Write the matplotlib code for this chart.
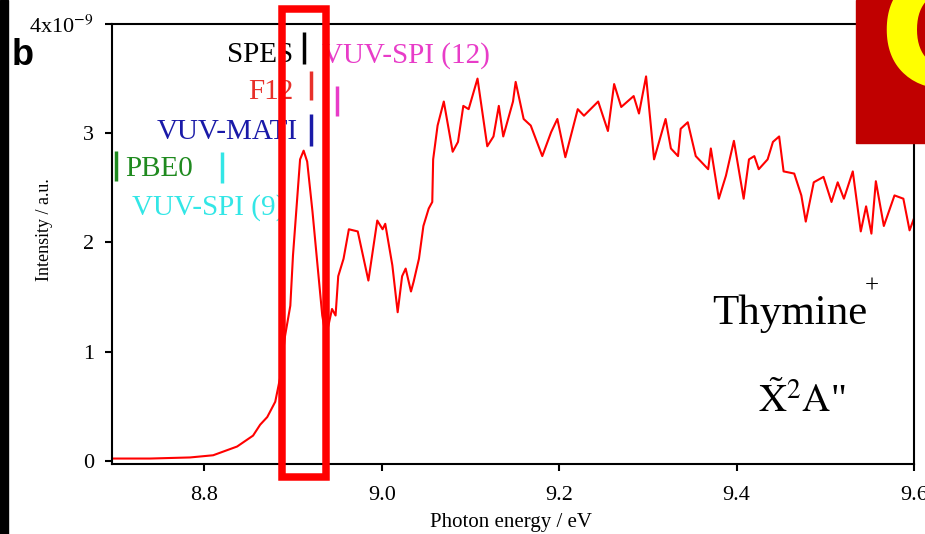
import matplotlib
matplotlib.use("Agg")
import matplotlib.pyplot as plt
from matplotlib.patches import Rectangle

plt.rcParams['font.family'] = ['Liberation Serif', 'DejaVu Serif']
plt.rcParams['mathtext.fontset'] = 'stix'

# spectrum (intensity in units of 1e-9)
energy = [8.696, 8.739, 8.784, 8.810, 8.837, 8.855, 8.863, 8.871, 8.880, 8.886,
          8.891, 8.897, 8.900, 8.905, 8.908, 8.912, 8.916, 8.922, 8.928, 8.933,
          8.937, 8.940, 8.944, 8.948, 8.951, 8.957, 8.963, 8.973, 8.985, 8.995,
          9.001, 9.004, 9.012, 9.018, 9.023, 9.027, 9.033, 9.036, 9.042, 9.047,
          9.053, 9.057, 9.058, 9.063, 9.070, 9.080, 9.086, 9.092, 9.098, 9.108,
          9.119, 9.126, 9.132, 9.137, 9.148, 9.151, 9.160, 9.168, 9.181, 9.191,
          9.198, 9.207, 9.221, 9.228, 9.244, 9.255, 9.262, 9.270, 9.284, 9.290,
          9.298, 9.303, 9.307, 9.320, 9.326, 9.334, 9.337, 9.345, 9.354, 9.368,
          9.371, 9.380, 9.388, 9.397, 9.408, 9.414, 9.420, 9.425, 9.435, 9.441,
          9.448, 9.453, 9.465, 9.473, 9.478, 9.487, 9.498, 9.507, 9.514, 9.521,
          9.531, 9.540, 9.546, 9.552, 9.557, 9.566, 9.578, 9.588, 9.595, 9.600]
intensity = [0.02, 0.02, 0.03, 0.05, 0.13, 0.23, 0.33, 0.40, 0.54, 0.78,
             1.14, 1.42, 1.88, 2.43, 2.76, 2.84, 2.74, 2.28, 1.76, 1.33,
             1.14, 1.24, 1.39, 1.33, 1.69, 1.85, 2.12, 2.10, 1.65, 2.20,
             2.12, 2.17, 1.79, 1.36, 1.69, 1.76, 1.55, 1.64, 1.85, 2.15,
             2.31, 2.37, 2.76, 3.07, 3.29, 2.83, 2.92, 3.25, 3.22, 3.50,
             2.88, 2.97, 3.25, 2.97, 3.29, 3.47, 3.13, 3.07, 2.79, 3.01,
             3.13, 2.78, 3.22, 3.16, 3.29, 3.02, 3.45, 3.24, 3.34, 3.18,
             3.52, 3.10, 2.76, 3.13, 2.86, 2.79, 3.04, 3.10, 2.79, 2.67,
             2.86, 2.40, 2.61, 2.93, 2.40, 2.76, 2.79, 2.67, 2.76, 2.92,
             2.97, 2.65, 2.63, 2.43, 2.19, 2.55, 2.60, 2.37, 2.55, 2.40,
             2.65, 2.10, 2.33, 2.08, 2.56, 2.15, 2.43, 2.40, 2.11, 2.22]

# reference positions (label, marker x, marker y range, text x, text y, align, colour)
ref_labels = ['SPES', 'F12', 'VUV-MATI', 'PBE0', 'VUV-SPI (9)', 'VUV-SPI (12)']
ref_x = [8.912, 8.920, 8.920, 8.700, 8.820, 8.950]
ref_y0 = [3.63, 3.30, 2.88, 2.56, 2.54, 3.16]
ref_y1 = [3.93, 3.57, 3.18, 2.84, 2.83, 3.43]
text_x = [8.9005, 8.900, 8.905, 8.711, 8.719, 8.933]
text_y = [3.65, 3.31, 2.95, 2.61, 2.25, 3.65]
text_ha = ['right', 'right', 'right', 'left', 'left', 'left']
ref_colors = ['black', '#e8302a', '#1a1aa8', '#1f8a1f', '#33e6e6', '#e83cc8']

xticks = [8.8, 9.0, 9.2, 9.4, 9.6]
xtick_labels = ['8.8', '9.0', '9.2', '9.4', '9.6']
yticks = [0, 1, 2, 3, 4]
ytick_labels = ['0', '1', '2', '3', r'4x10$^{-9}$']

W, H = 925, 534
fig = plt.figure(figsize=(W / 100, H / 100), dpi=100)
ax = fig.add_axes([112 / W, 1 - 464 / H, 802 / W, 440 / H])

ax.plot(energy, intensity, color='#ff0000', lw=1.5)

for lab, x, y0, y1, tx, ty, ha, c in zip(ref_labels, ref_x, ref_y0, ref_y1,
                                         text_x, text_y, text_ha, ref_colors):
    ax.plot([x, x], [y0, y1], color=c, lw=2.5, solid_capstyle='butt')
    ax.text(tx, ty, lab, color=c, fontsize=21, ha=ha, va='baseline')

ax.text(9.373, 1.25, 'Thymine', fontsize=31, ha='left', va='baseline')
ax.text(9.552, 1.60, '+', fontsize=18, ha='center', va='center')
ax.text(9.424, 0.45, r'$\tilde{\mathrm{X}}^{2}\mathrm{A}$"', fontsize=28,
        ha='left', va='baseline')

ax.set_xlim(8.696, 9.60)
ax.set_ylim(-0.03, 4.0)
ax.set_xticks(xticks)
ax.set_xticklabels(xtick_labels)
ax.set_yticks(yticks)
ax.set_yticklabels(ytick_labels)
ax.tick_params(direction='out', length=5, width=1.5, labelsize=16, pad=8,
               top=False, right=False)
ax.tick_params(axis='x', pad=11)
for s in ax.spines.values():
    s.set_linewidth(1.5)

ax.set_xlabel('Photon energy / eV', fontsize=15)
ax.xaxis.set_label_coords(0.4975, -0.112)
ax.set_ylabel('Intensity / a.u.', fontsize=13)
ax.yaxis.set_label_coords(-0.074, 0.532)

# black strip on the left edge and panel letter
fig.add_artist(Rectangle((0, 0), 8 / W, 1, transform=fig.transFigure,
                         color='black', zorder=5))
fig.text(12 / W, 1 - 65 / H, 'b', fontsize=26, fontweight='bold',
         family='Liberation Sans', ha='left', va='baseline')

# red highlight box around the first band
fig.add_artist(Rectangle((281.5 / W, 1 - 476.5 / H), 44.5 / W, 467.5 / H,
                         transform=fig.transFigure, fill=False,
                         edgecolor='#ff0000', lw=5.4, zorder=10))

# logo in the top-right corner
fig.add_artist(Rectangle((856 / W, 1 - 143 / H), 69 / W, 143 / H,
                         transform=fig.transFigure, color='#c00000', zorder=10))
fig.text(878 / W, 1 - 44 / H, 'C', fontsize=112, fontweight='bold',
         family='DejaVu Sans', color='#ffff00', ha='left', va='center',
         zorder=11)

fig.savefig('out.png', dpi=100)
